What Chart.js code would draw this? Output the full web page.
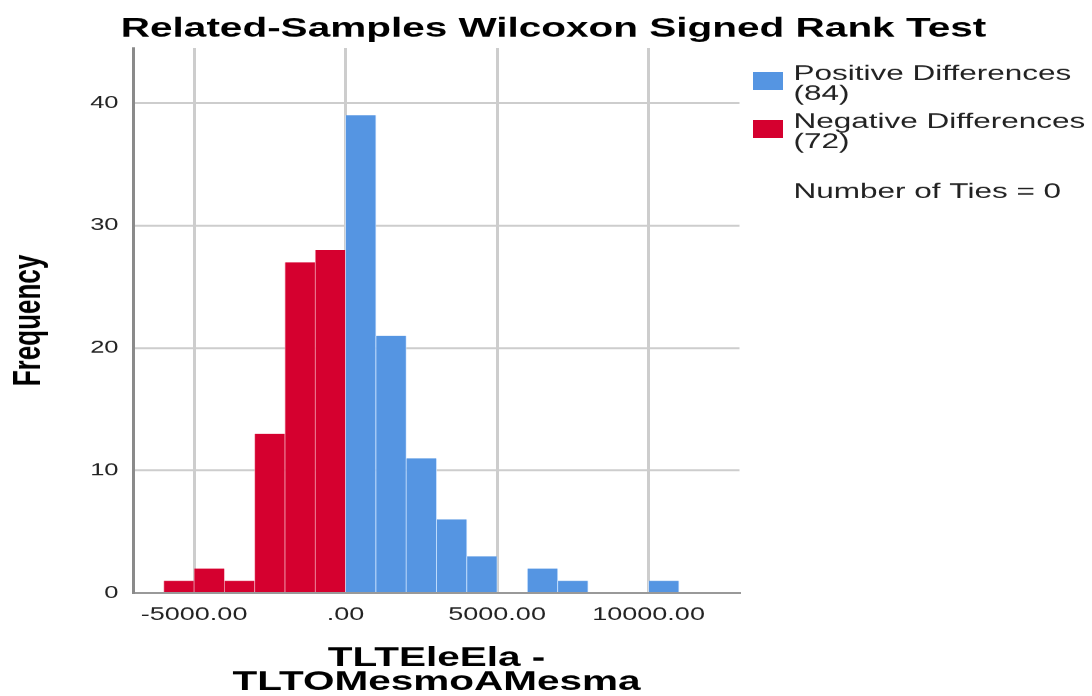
<!DOCTYPE html>
<html><head><meta charset="utf-8">
<script src="https://cdn.jsdelivr.net/npm/chart.js@4.4.0/dist/chart.umd.min.js"></script>
<style>
html,body{margin:0;padding:0;background:#fff;overflow:hidden;}
#wrap{width:728px;height:696px;transform:scaleX(1.5);transform-origin:0 0;}
</style></head><body>
<div id="wrap"><canvas id="c" width="728" height="696"></canvas></div>
<script>
const chartTitle = 'Related-Samples Wilcoxon Signed Rank Test';
const xTitle = ['TLTEleEla -', 'TLTOMesmoAMesma'];
const yTitle = 'Frequency';
const negBinCenters = [-5500, -4500, -3500, -2500, -1500, -500];
const negCounts = [1, 2, 1, 13, 27, 28];
const posBinCenters = [500, 1500, 2500, 3500, 4500, 5500, 6500, 7500, 8500, 9500, 10500];
const posCounts = [39, 21, 11, 6, 3, 0, 2, 1, 0, 0, 1];
const seriesNames = ['Positive Differences', 'Negative Differences'];
const seriesTotals = [84, 72];
const tiesNote = 'Number of Ties = 0';
const xTickValues = [-5000, 0, 5000, 10000];
const xTickLabels = ['-5000.00', '.00', '5000.00', '10000.00'];
const yTickValues = [0, 10, 20, 30, 40];
const yTickLabels = ['0', '10', '20', '30', '40'];

const BLUE = '#5595e2';
const RED = '#d5002f';
const FAMILY = '"Liberation Sans", Arial, Helvetica, sans-serif';

const legendPlugin = {
  id: 'spssLegend',
  afterDraw(chart) {
    const ctx = chart.ctx;
    const a = chart.chartArea;
    const sx = a.right + 9, tx = a.right + 36;
    const items = [
      {color: BLUE, name: seriesNames[0], n: seriesTotals[0], top: 24},
      {color: RED, name: seriesNames[1], n: seriesTotals[1], top: 72}
    ];
    ctx.save();
    ctx.font = '21px ' + FAMILY;
    ctx.textBaseline = 'alphabetic';
    ctx.textAlign = 'left';
    items.forEach(it => {
      ctx.fillStyle = it.color;
      ctx.fillRect(sx, a.top + it.top, 20, 18);
      ctx.fillStyle = '#222';
      ctx.fillText(it.name, tx, a.top + it.top + 8);
      ctx.fillText('(' + it.n + ')', tx, a.top + it.top + 28);
    });
    ctx.fillText(tiesNote, tx, a.top + 150);
    ctx.restore();
  }
};

new Chart(document.getElementById('c'), {
  type: 'bar',
  data: {
    datasets: [
      {
        label: seriesNames[0],
        data: posBinCenters.map((x, i) => ({x: x, y: posCounts[i]})),
        backgroundColor: BLUE,
        borderColor: 'rgba(200,225,255,0.8)',
        borderWidth: {left: 0.6, right: 0.6, top: 0, bottom: 0},
        borderSkipped: false
      },
      {
        label: seriesNames[1],
        data: negBinCenters.map((x, i) => ({x: x, y: negCounts[i]})),
        backgroundColor: RED,
        borderColor: 'rgba(240,150,170,0.8)',
        borderWidth: {left: 0.6, right: 0.6, top: 0, bottom: 0},
        borderSkipped: false
      }
    ]
  },
  options: {
    responsive: false,
    animation: false,
    devicePixelRatio: 1.5,
    grouped: false,
    barPercentage: 1,
    categoryPercentage: 1,
    layout: {padding: {left: 10, right: 0, top: 0, bottom: 0}},
    plugins: {
      legend: {display: false},
      tooltip: {enabled: false},
      title: {
        display: true, text: chartTitle, color: '#000',
        font: {family: FAMILY, size: 27, weight: 'bold', lineHeight: 1.2},
        padding: {top: 13, bottom: 2.6}
      }
    },
    scales: {
      x: {
        type: 'linear', position: 'bottom', min: -7000, max: 13000,
        offset: false,
        afterBuildTicks: s => { s.ticks = xTickValues.map(v => ({value: v})); },
        afterFit: s => { s.height = 103; },
        ticks: {
          padding: 11, color: '#222', maxRotation: 0, autoSkip: false,
          font: {family: FAMILY, size: 18},
          callback: (v, i) => xTickLabels[i]
        },
        grid: {color: '#cdcdcd', lineWidth: 2, drawTicks: false, offset: false},
        border: {display: true, color: '#999', width: 2},
        title: {
          display: true, text: xTitle, color: '#000',
          font: {family: FAMILY, size: 27, weight: 'bold', lineHeight: 0.87},
          padding: {top: 0, bottom: 2}
        }
      },
      y: {
        type: 'linear', position: 'left', min: 0, max: 44.5,
        afterBuildTicks: s => { s.ticks = yTickValues.map(v => ({value: v})); },
        afterFit: s => { s.width = 79; },
        ticks: {
          padding: 10, color: '#222',
          font: {family: FAMILY, size: 17},
          callback: (v, i) => yTickLabels[i]
        },
        grid: {color: '#cdcdcd', lineWidth: 2, drawTicks: false},
        border: {display: true, color: '#8a8a8a', width: 2},
        title: {
          display: true, text: yTitle, color: '#000',
          font: {family: FAMILY, size: 26, weight: 'bold', lineHeight: 1.2},
          padding: {top: -6, bottom: 0}
        }
      },
      ySpacer: {
        type: 'linear', position: 'right', display: true,
        afterFit: s => { s.width = 235; },
        ticks: {display: false},
        grid: {display: false, drawTicks: false},
        border: {display: false},
        title: {display: false}
      }
    }
  },
  plugins: [legendPlugin]
});
</script>
</body></html>
